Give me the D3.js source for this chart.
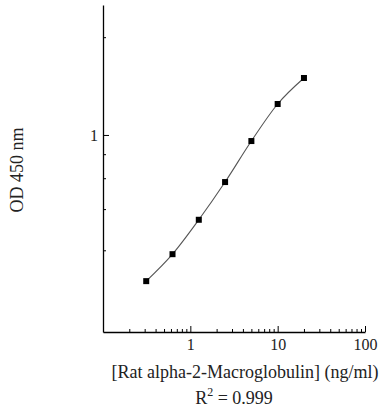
<!DOCTYPE html>
<html>
<head>
<meta charset="utf-8">
<script src="https://cdn.jsdelivr.net/npm/d3@7"></script>
<style>
  body { margin: 0; background: #fff; }
  svg { display: block; }
  text { font-family: "Liberation Serif", "Times New Roman", serif; fill: #222; }
</style>
</head>
<body>
<svg></svg>
<script>
// Standard curve data
const concentration = [0.3125, 0.625, 1.25, 2.5, 5, 10, 20];      // ng/ml
const od450 = [0.542, 0.592, 0.671, 0.786, 0.966, 1.218, 1.491];

// Axis ticks
const xMajorTicks = [1, 10, 100];
const xMinorTicks = [0.2, 0.3, 0.4, 0.5, 0.6, 0.7, 0.8, 0.9,
                     2, 3, 4, 5, 6, 7, 8, 9,
                     20, 30, 40, 50, 60, 70, 80, 90];
const yMajorTicks = [1];
const yMinorTicks = [0.6, 0.7, 0.8, 0.9, 2.3];

const width = 381;
const height = 409;
const margin = { top: 5, right: 16, bottom: 77, left: 103 };

const svg = d3.select("svg")
    .attr("width", width)
    .attr("height", height);

const x = d3.scaleLog()
    .domain([0.1, 100])
    .range([margin.left, width - margin.right]);

// reciprocal-like y axis
const y = d3.scalePow()
    .exponent(-1)
    .domain([0.4675, 4.02])
    .range([height - margin.bottom, margin.top]);

const x0 = height - margin.bottom;

// x axis: minor ticks, then major ticks + domain
svg.append("g")
    .attr("transform", `translate(0,${x0})`)
    .call(d3.axisBottom(x).tickValues(xMinorTicks).tickSize(-3).tickFormat(""))
    .call(g => g.select(".domain").remove());

svg.append("g")
    .attr("transform", `translate(0,${x0})`)
    .call(d3.axisBottom(x).tickValues(xMajorTicks).tickSizeInner(-6).tickSizeOuter(0)
        .tickPadding(7).tickFormat(d3.format("d")))
    .call(g => g.selectAll("text").style("font-size", "16px").attr("fill", "#222"))
    .call(g => g.select(".domain").attr("stroke-width", 1.3));

// y axis
svg.append("g")
    .attr("transform", `translate(${margin.left},0)`)
    .call(d3.axisLeft(y).tickValues(yMinorTicks).tickSize(-3).tickFormat(""))
    .call(g => g.select(".domain").remove());

svg.append("g")
    .attr("transform", `translate(${margin.left},0)`)
    .call(d3.axisLeft(y).tickValues(yMajorTicks).tickSizeInner(-6).tickSizeOuter(0)
        .tickPadding(5).tickFormat(d3.format("d")))
    .call(g => g.selectAll("text").style("font-size", "16px").attr("fill", "#222"))
    .call(g => g.select(".domain").attr("stroke-width", 1.3));

// fitted curve through the points
const pts = concentration.map((c, i) => ({ c: c, v: od450[i] }));

svg.append("path")
    .datum(pts)
    .attr("fill", "none")
    .attr("stroke", "#555")
    .attr("stroke-width", 1.1)
    .attr("d", d3.line()
        .x(d => x(d.c))
        .y(d => y(d.v))
        .curve(d3.curveMonotoneX));

svg.selectAll(".pt")
    .data(pts)
    .enter()
    .append("rect")
    .attr("class", "pt")
    .attr("x", d => x(d.c) - 3)
    .attr("y", d => y(d.v) - 3)
    .attr("width", 6)
    .attr("height", 6)
    .attr("fill", "#000");

// labels
svg.append("text")
    .attr("transform", `translate(23,170) rotate(-90)`)
    .attr("text-anchor", "middle")
    .style("font-size", "18px")
    .text("OD 450 nm");

svg.append("text")
    .attr("x", 245)
    .attr("y", 378)
    .attr("text-anchor", "middle")
    .style("font-size", "18px")
    .text("[Rat alpha-2-Macroglobulin] (ng/ml)");

const r2 = svg.append("text")
    .attr("x", 234)
    .attr("y", 404)
    .attr("text-anchor", "middle")
    .style("font-size", "18px");
r2.append("tspan").text("R");
r2.append("tspan").attr("dy", -8).style("font-size", "12px").text("2");
r2.append("tspan").attr("dy", 8).text(" = 0.999");
</script>
</body>
</html>
